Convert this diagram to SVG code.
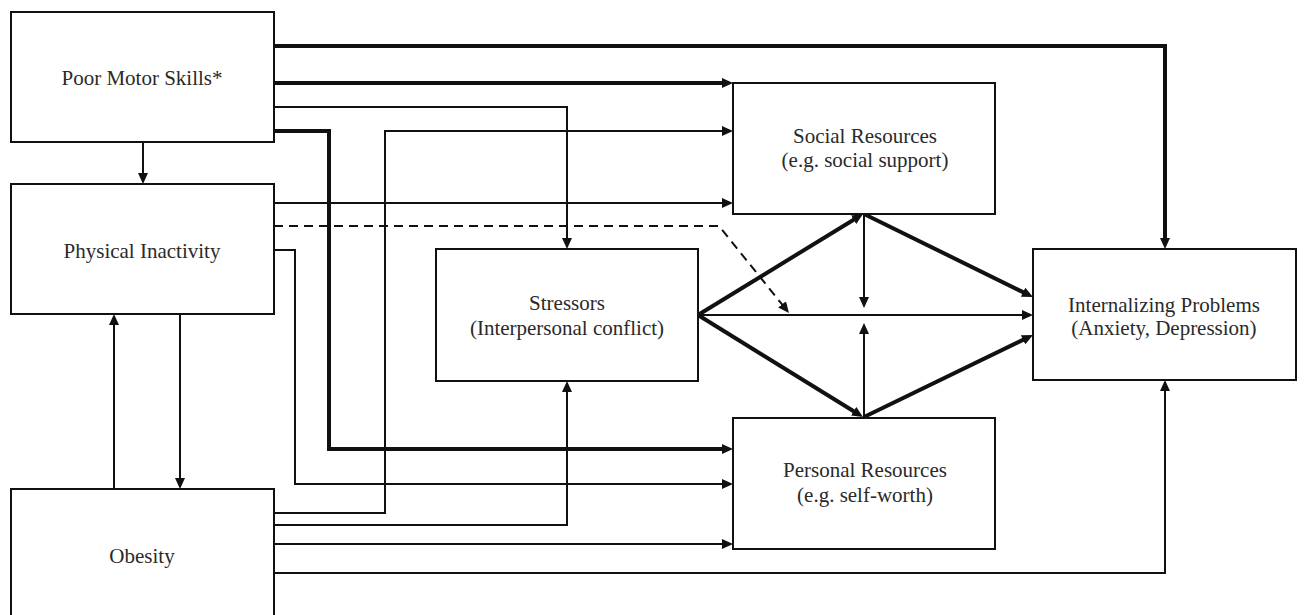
<svg xmlns="http://www.w3.org/2000/svg" width="1305" height="615" viewBox="0 0 1305 615">
<style>
.box{fill:#fff;stroke:#111;stroke-width:2}
.lbl{font-family:"Liberation Serif","Times New Roman",serif;font-size:21px;fill:#2a2a2a;text-anchor:middle}
.c{fill:none;stroke:#111;stroke-width:2;stroke-linejoin:miter}
.k{stroke-width:4}
.d{stroke-dasharray:9 6}
</style>
<defs>
<marker id="ah" markerUnits="userSpaceOnUse" markerWidth="11" markerHeight="10" viewBox="0 0 11 10" refX="1" refY="5" orient="auto">
<path d="M0,0 L11,5 L0,10 z" fill="#111" stroke="none"/>
</marker>
</defs>
<rect width="1305" height="615" fill="#fff"/>
<g id="connectors">
<path class="c" d="M143,142 V174" marker-end="url(#ah)"/>
<path class="c" d="M114,489 V324" marker-end="url(#ah)"/>
<path class="c" d="M180,314 V479" marker-end="url(#ah)"/>
<path class="c k" d="M274,46 H1165 V239" marker-end="url(#ah)"/>
<path class="c k" d="M274,83 H723" marker-end="url(#ah)"/>
<path class="c" d="M274,107 H567 V239" marker-end="url(#ah)"/>
<path class="c k" d="M274,131 H329 V449 H723" marker-end="url(#ah)"/>
<path class="c" d="M274,513 H385 V131 H723" marker-end="url(#ah)"/>
<path class="c" d="M274,203 H723" marker-end="url(#ah)"/>
<path class="c d" d="M274,226 H719 L782.7,305.2" marker-end="url(#ah)"/>
<path class="c" d="M274,250 H295 V484 H723" marker-end="url(#ah)"/>
<path class="c" d="M274,525 H567 V391" marker-end="url(#ah)"/>
<path class="c" d="M274,544 H723" marker-end="url(#ah)"/>
<path class="c" d="M274,573 H1165 V390" marker-end="url(#ah)"/>
<path class="c k" d="M698,315 L854.5,219.2" marker-end="url(#ah)"/>
<path class="c k" d="M698,315 L854.5,411.7" marker-end="url(#ah)"/>
<path class="c" d="M698,315 H1023" marker-end="url(#ah)"/>
<path class="c" d="M864,214 V298" marker-end="url(#ah)"/>
<path class="c" d="M864,417 V333" marker-end="url(#ah)"/>
<path class="c k" d="M864,214 L1024,292.6" marker-end="url(#ah)"/>
<path class="c k" d="M864,417 L1024,339.4" marker-end="url(#ah)"/>
</g>
<g id="poor-motor-skills">
<rect class="box" x="11" y="12" width="263" height="130"/>
<text class="lbl" x="142" y="85">Poor Motor Skills*</text>
</g>
<g id="physical-inactivity">
<rect class="box" x="11" y="184" width="263" height="130"/>
<text class="lbl" x="142" y="258">Physical Inactivity</text>
</g>
<g id="obesity">
<rect class="box" x="11" y="489" width="263" height="140"/>
<text class="lbl" x="142" y="563">Obesity</text>
</g>
<g id="stressors">
<rect class="box" x="436" y="249" width="262" height="132"/>
<text class="lbl" x="567" y="310">Stressors</text>
<text class="lbl" x="567" y="335">(Interpersonal conflict)</text>
</g>
<g id="social-resources">
<rect class="box" x="733" y="83" width="262" height="131"/>
<text class="lbl" x="865" y="143">Social Resources</text>
<text class="lbl" x="865" y="167">(e.g. social support)</text>
</g>
<g id="personal-resources">
<rect class="box" x="733" y="418" width="262" height="131"/>
<text class="lbl" x="865" y="477">Personal Resources</text>
<text class="lbl" x="865" y="502">(e.g. self-worth)</text>
</g>
<g id="internalizing-problems">
<rect class="box" x="1033" y="249" width="263" height="131"/>
<text class="lbl" x="1164" y="312">Internalizing Problems</text>
<text class="lbl" x="1164" y="335">(Anxiety, Depression)</text>
</g>
</svg>
